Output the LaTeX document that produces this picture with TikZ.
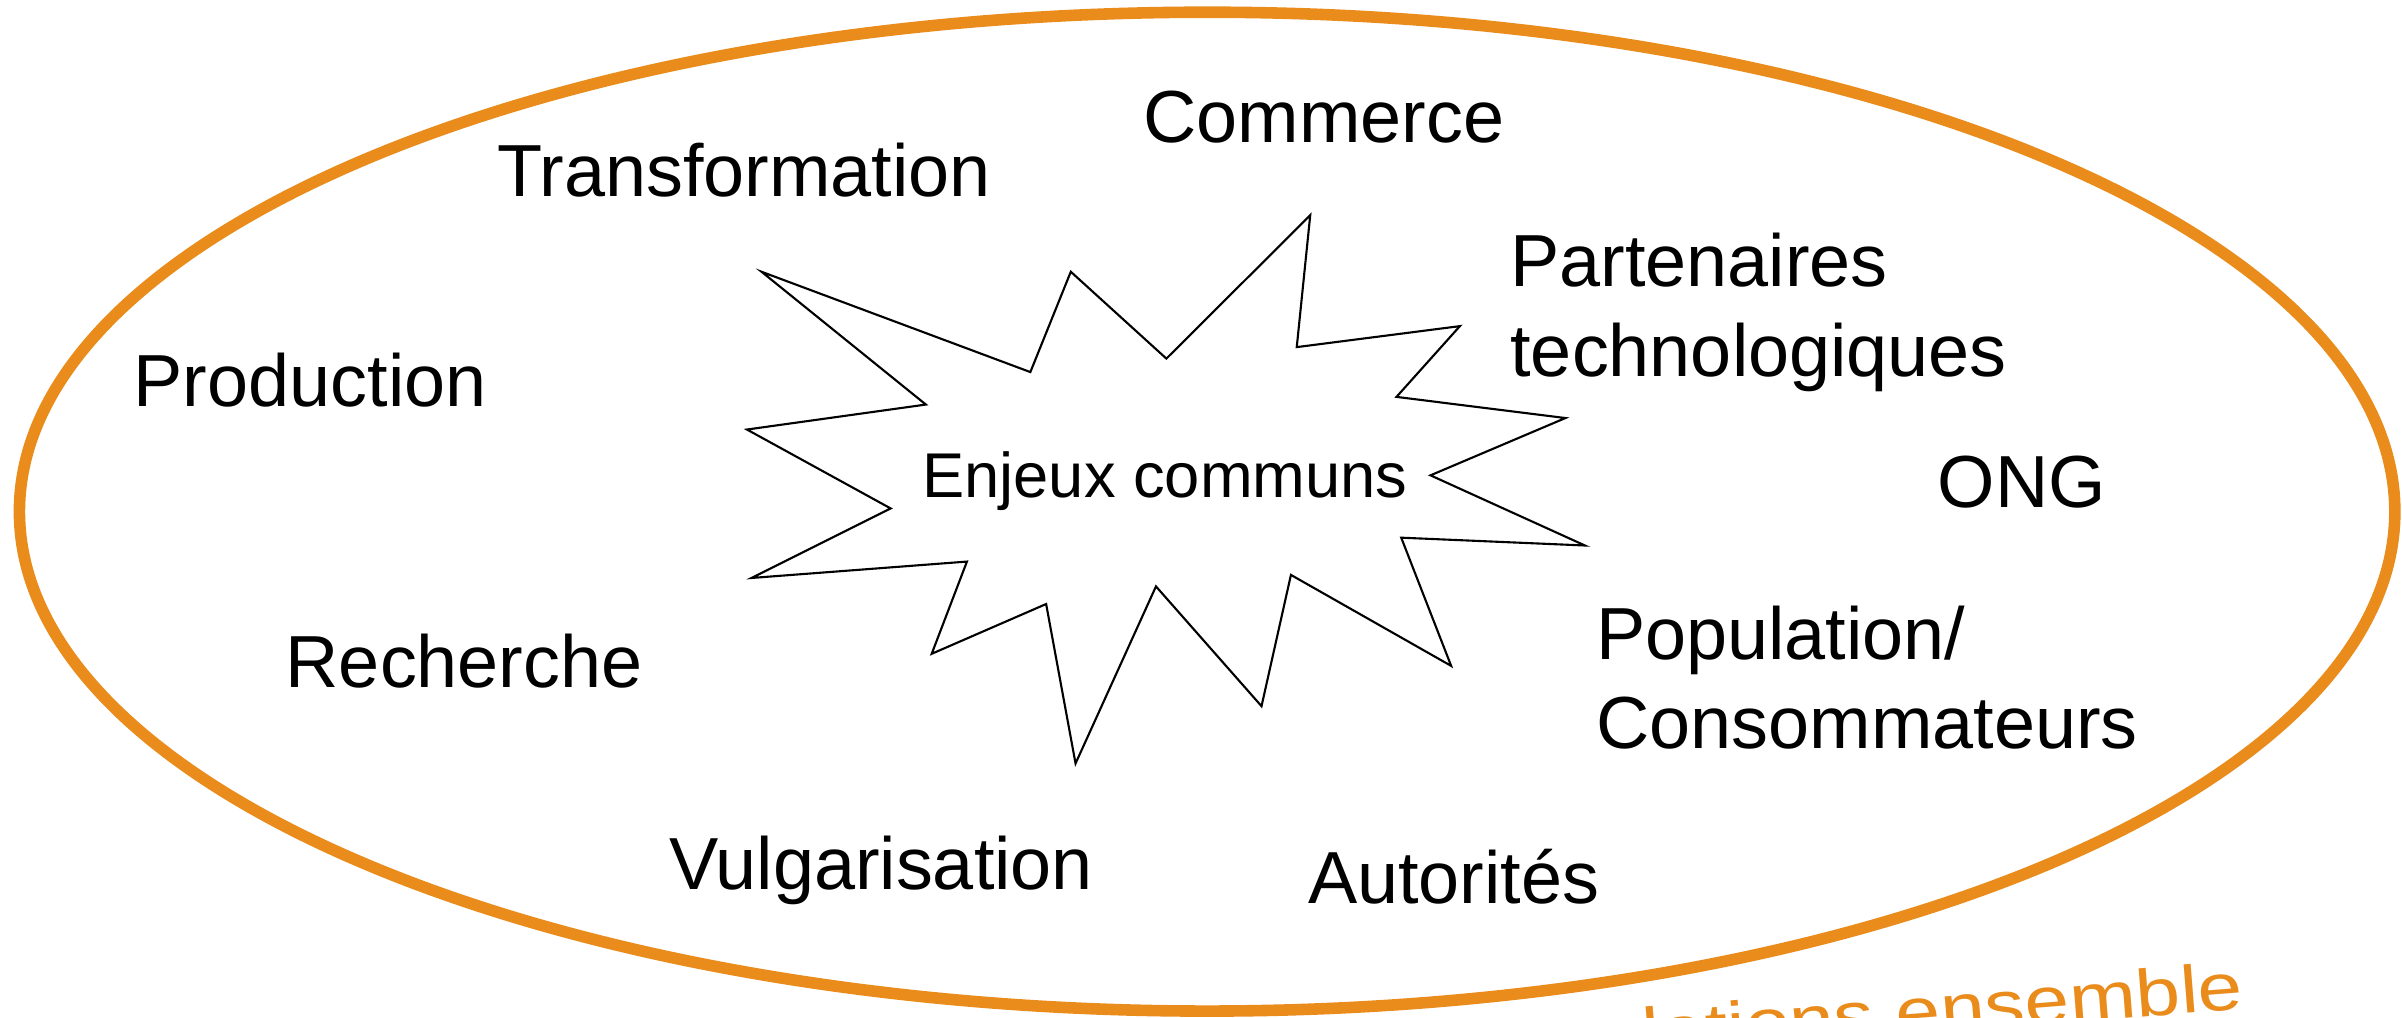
\documentclass[tikz,border=0pt]{standalone}
\usepackage{fontspec}
\setmainfont{Liberation Sans}
\usepackage{graphicx}
\usepackage{tikz}
\usetikzlibrary{shapes.geometric}
\definecolor{ringorange}{RGB}{233,140,28}
\tikzstyle{actor} = [font=\fontsize{21}{25.4}\selectfont, align=left, inner sep=0pt, outer sep=0pt, anchor=base west]
\tikzstyle{ring}  = [ellipse, draw=ringorange, line width=3.3pt, minimum width=23.755cm, minimum height=9.989cm, inner sep=0pt]
\tikzstyle{burst} = [draw=black, line width=0.6pt]
\tikzstyle{motto} = [font=\fontsize{19}{23}\selectfont, text=ringorange, inner sep=0pt, anchor=base west, rotate=4.5]

\begin{document}
\begin{tikzpicture}[x=0.01532cm, y=-0.01532cm]
	\useasboundingbox (0,0) rectangle (1568,664);
	\clip (0,0) rectangle (1568,664);
	\node[ring] (ring) at (788,334) {};
	\draw[burst] (497.1,177.4) -- (672.6,242.9) -- (699.0,177.4) -- (761.4,234.1)
		-- (855.3,140.5) -- (846.5,226.6) -- (953.0,212.9) -- (911.6,259.1)
		-- (1021.9,272.9) -- (933.8,310.3) -- (1034.6,356.1) -- (914.7,351.0)
		-- (947.3,434.7) -- (842.7,375.3) -- (823.5,461.0) -- (754.6,382.8)
		-- (702.1,498.4) -- (682.9,394.3) -- (608.2,426.8) -- (631.2,366.6)
		-- (490.6,377.3) -- (581.4,331.9) -- (487.6,280.4) -- (604.4,264.1) -- cycle;
	\node[font=\fontsize{18}{22}\selectfont, inner sep=0pt, anchor=base] (enjeux) at (760.5,324.8) {Enjeux communs};
	\node[actor] (transformation) at (324.7,128.2) {Transformation};
	\node[actor] (commerce) at (746.5,93.1) {Commerce};
	\node[actor] (partenaires) at (986,245.5) {Partenaires\\technologiques};
	\node[actor] (production) at (87.3,265.6) {Production};
	\node[actor] (ong) at (1265,331.5) {ONG};
	\node[actor] (recherche) at (186.5,449) {Recherche};
	\node[actor] (population) at (1042,488.5) {Population/\\Consommateurs};
	\node[actor] (vulgarisation) at (436.8,580.7) {Vulgarisation};
	\node[actor] (autorites) at (853.9,589.9) {Autorités};
	\node[motto] (motto) at (1027,693) {\scalebox{1.2}[1]{relations ensemble}};
\end{tikzpicture}
\end{document}
